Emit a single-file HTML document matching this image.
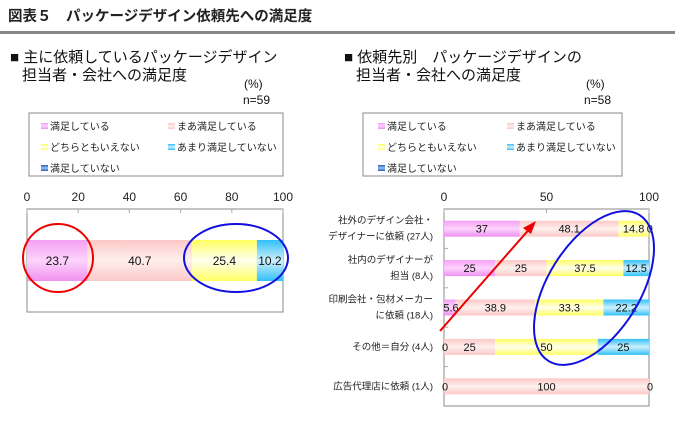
<!DOCTYPE html>
<html><head><meta charset="utf-8"><style>
body{margin:0;background:#fff;}
svg{display:block;font-family:"Liberation Sans","Noto Sans CJK JP",sans-serif;}
</style></head><body>
<svg id="s" width="675" height="425" viewBox="0 0 675 425">
<defs>
<linearGradient id="g0" x1="0" y1="0" x2="0" y2="1"><stop offset="0" stop-color="#f4a0f4"/><stop offset="0.5" stop-color="#fcd4fc"/><stop offset="1" stop-color="#f090f0"/></linearGradient>
<linearGradient id="g1" x1="0" y1="0" x2="0" y2="1"><stop offset="0" stop-color="#fcc8c8"/><stop offset="0.5" stop-color="#fdf0ec"/><stop offset="1" stop-color="#fcc8c8"/></linearGradient>
<linearGradient id="g2" x1="0" y1="0" x2="0" y2="1"><stop offset="0" stop-color="#ffff60"/><stop offset="0.5" stop-color="#fffff0"/><stop offset="1" stop-color="#ffff60"/></linearGradient>
<linearGradient id="g3" x1="0" y1="0" x2="0" y2="1"><stop offset="0" stop-color="#30c0f8"/><stop offset="0.5" stop-color="#d0f0fc"/><stop offset="1" stop-color="#30c0f8"/></linearGradient>
<linearGradient id="g4" x1="0" y1="0" x2="0" y2="1"><stop offset="0" stop-color="#2060c0"/><stop offset="0.5" stop-color="#a0c0f0"/><stop offset="1" stop-color="#2060c0"/></linearGradient>
</defs>
<text x="8" y="21" font-size="14.5" font-weight="bold" fill="#222">図表５　パッケージデザイン依頼先への満足度</text>
<rect x="0" y="31" width="675" height="3" fill="#888"/>
<g font-size="15" fill="#111">
<text x="10" y="62">■ 主に依頼しているパッケージデザイン</text>
<text x="22" y="80">担当者・会社への満足度</text>
<text x="244" y="88" font-size="12">(%)</text>
<text x="243" y="104" font-size="12">n=59</text>
</g>
<g font-size="15" fill="#111">
<text x="344" y="62">■ 依頼先別　パッケージデザインの</text>
<text x="356" y="80">担当者・会社への満足度</text>
<text x="586" y="88" font-size="12">(%)</text>
<text x="584" y="104" font-size="12">n=58</text>
</g>
<g id="legends"></g>
<g id="left"></g>
<g id="right"></g>
<g id="ann"></g>
</svg>
<script>
const categories=["満足している","まあ満足している","どちらともいえない","あまり満足していない","満足していない"];
const fills=["url(#g0)","url(#g1)","url(#g2)","url(#g3)","url(#g4)"];
const leftValues=[23.7,40.7,25.4,10.2,0];
const leftLabels=["23.7","40.7","25.4","10.2"];
const rightGroups=["社外のデザイン会社・|デザイナーに依頼 (27人)","社内のデザイナーが|担当 (8人)","印刷会社・包材メーカー|に依頼 (18人)","その他＝自分 (4人)","広告代理店に依頼 (1人)"];
const rightValues=[[37,48.1,14.8,0,0],[25,25,37.5,12.5,0],[5.6,38.9,33.3,22.2,0],[0,25,50,25,0],[0,100,0,0,0]];
const rightLabels=[["37","48.1","14.8","0"],["25","25","37.5","12.5"],["5.6","38.9","33.3","22.2"],["0","25","50","25"],["0","100","0"]];
const leftTicks=[0,20,40,60,80,100];
const rightTicks=[0,50,100];
const NS="http://www.w3.org/2000/svg";
function mk(t,a,p,txt){const e=document.createElementNS(NS,t);for(const k in a)e.setAttribute(k,a[k]);if(txt!==undefined)e.textContent=txt;p.appendChild(e);return e;}
const L=document.getElementById('legends');
[[29,254],[363,259]].forEach(([x0,w],li)=>{
 const g=mk('g',{},L);
 mk('rect',{x:x0,y:113,width:w,height:63,fill:'#fff',stroke:'#888'},g);
 const cols=li?[378,507]:[41,168];
 categories.forEach((c,i)=>{
  const cx=cols[i%2],cy=124+Math.floor(i/2)*21;
  const it=mk('g',{},g);
  
  mk('rect',{x:cx,y:cy-1,width:7,height:6,fill:fills[i]},it);
  mk('text',{x:cx+9,y:cy+6,'font-size':10,fill:'#222'},it,c);
 });
});
const LG=document.getElementById('left');
const lx0=27,lx1=283,ly0=209,ly1=312;
const lxs=v=>lx0+(lx1-lx0)*v/100;
mk('rect',{x:lx0,y:ly0,width:lx1-lx0,height:ly1-ly0,fill:'none',stroke:'#888'},LG);
leftTicks.forEach(t=>{const e=mk('text',{x:lxs(t),y:201,'font-size':12,'text-anchor':'middle',fill:'#222'},LG,t);
 mk('line',{x1:lxs(t),x2:lxs(t),y1:ly0,y2:ly0+4,stroke:'#aaa'},LG);});
let acc=0;
leftValues.forEach((v,i)=>{
 if(v<=0)return;
 const r=mk('rect',{x:lxs(acc),y:240,width:lxs(acc+v)-lxs(acc),height:41,fill:fills[i]},LG);
 
 mk('text',{x:(lxs(acc)+lxs(acc+v))/2,y:265,'font-size':12,'text-anchor':'middle',fill:'#111'},LG,leftLabels[i]);
 acc+=v;
});
const RG=document.getElementById('right');
const rx0=444,rx1=649,ry0=209,ry1=406;
const rxs=v=>rx0+(rx1-rx0)*v/100;
const band=(ry1-ry0)/rightGroups.length;
mk('rect',{x:rx0,y:ry0,width:rx1-rx0,height:ry1-ry0,fill:'none',stroke:'#888'},RG);
rightTicks.forEach(t=>{const e=mk('text',{x:rxs(t),y:201,'font-size':12,'text-anchor':'middle',fill:'#222'},RG,t);
 mk('line',{x1:rxs(t),x2:rxs(t),y1:ry0,y2:ry0+4,stroke:'#aaa'},RG);});
for(let k=1;k<rightGroups.length;k++)mk('line',{x1:rx0,x2:rx0+4,y1:ry0+band*k,y2:ry0+band*k,stroke:'#aaa'},RG);
rightGroups.forEach((gname,gi)=>{
 const cy=ry0+band*(gi+0.5);
 const parts=gname.split('|');
 const tl=mk('text',{'font-size':9.5,'text-anchor':'end',fill:'#222'},RG);
 
 parts.forEach((p,pi)=>mk('tspan',{x:433,y:cy+3+(pi-(parts.length-1)/2)*16},tl,p));
 let a=0;
 rightValues[gi].forEach((v,i)=>{
  if(v>0){const r=mk('rect',{x:rxs(a),y:cy-8,width:rxs(a+v)-rxs(a),height:16,fill:fills[i]},RG);
   }
  a+=v;
 });
 a=0;
 const vals=rightValues[gi],labs=rightLabels[gi];
 let j=0;
 for(let i=0;i<vals.length&&j<labs.length;i++){
  const v=vals[i];
  if(v===0&&!(labs[j]==='0'))continue;
  let x;
  if(v===0){x=(a>=100)?rxs(100)+1:rxs(a)+1;}
  else x=(rxs(a)+rxs(a+v))/2;
  if(v>0&&v<8)x=rxs(a)+7;
  mk('text',{x:x,y:cy+4,'font-size':11,'text-anchor':'middle',fill:'#111'},RG,labs[j]);
  a+=v;j++;
 }
});
const A=document.getElementById('ann');
const e1=mk('ellipse',{cx:58,cy:258,rx:35,ry:34,fill:'none',stroke:'#e00',"stroke-width":2},A);
const e2=mk('ellipse',{cx:236,cy:258,rx:52,ry:34,fill:'none',stroke:'#1010e0',"stroke-width":2},A);
const e3=mk('ellipse',{cx:594,cy:288,rx:86,ry:46,fill:'none',stroke:'#1010e0',"stroke-width":2,transform:'rotate(-58 594 288)'},A);
const ar=mk('g',{},A);
mk('line',{x1:440,y1:331,x2:532,y2:226,stroke:'#e00','stroke-width':2},ar);
mk('polygon',{points:'536,221 523,228 531,234',fill:'#e00'},ar);
</script>
</body></html>
